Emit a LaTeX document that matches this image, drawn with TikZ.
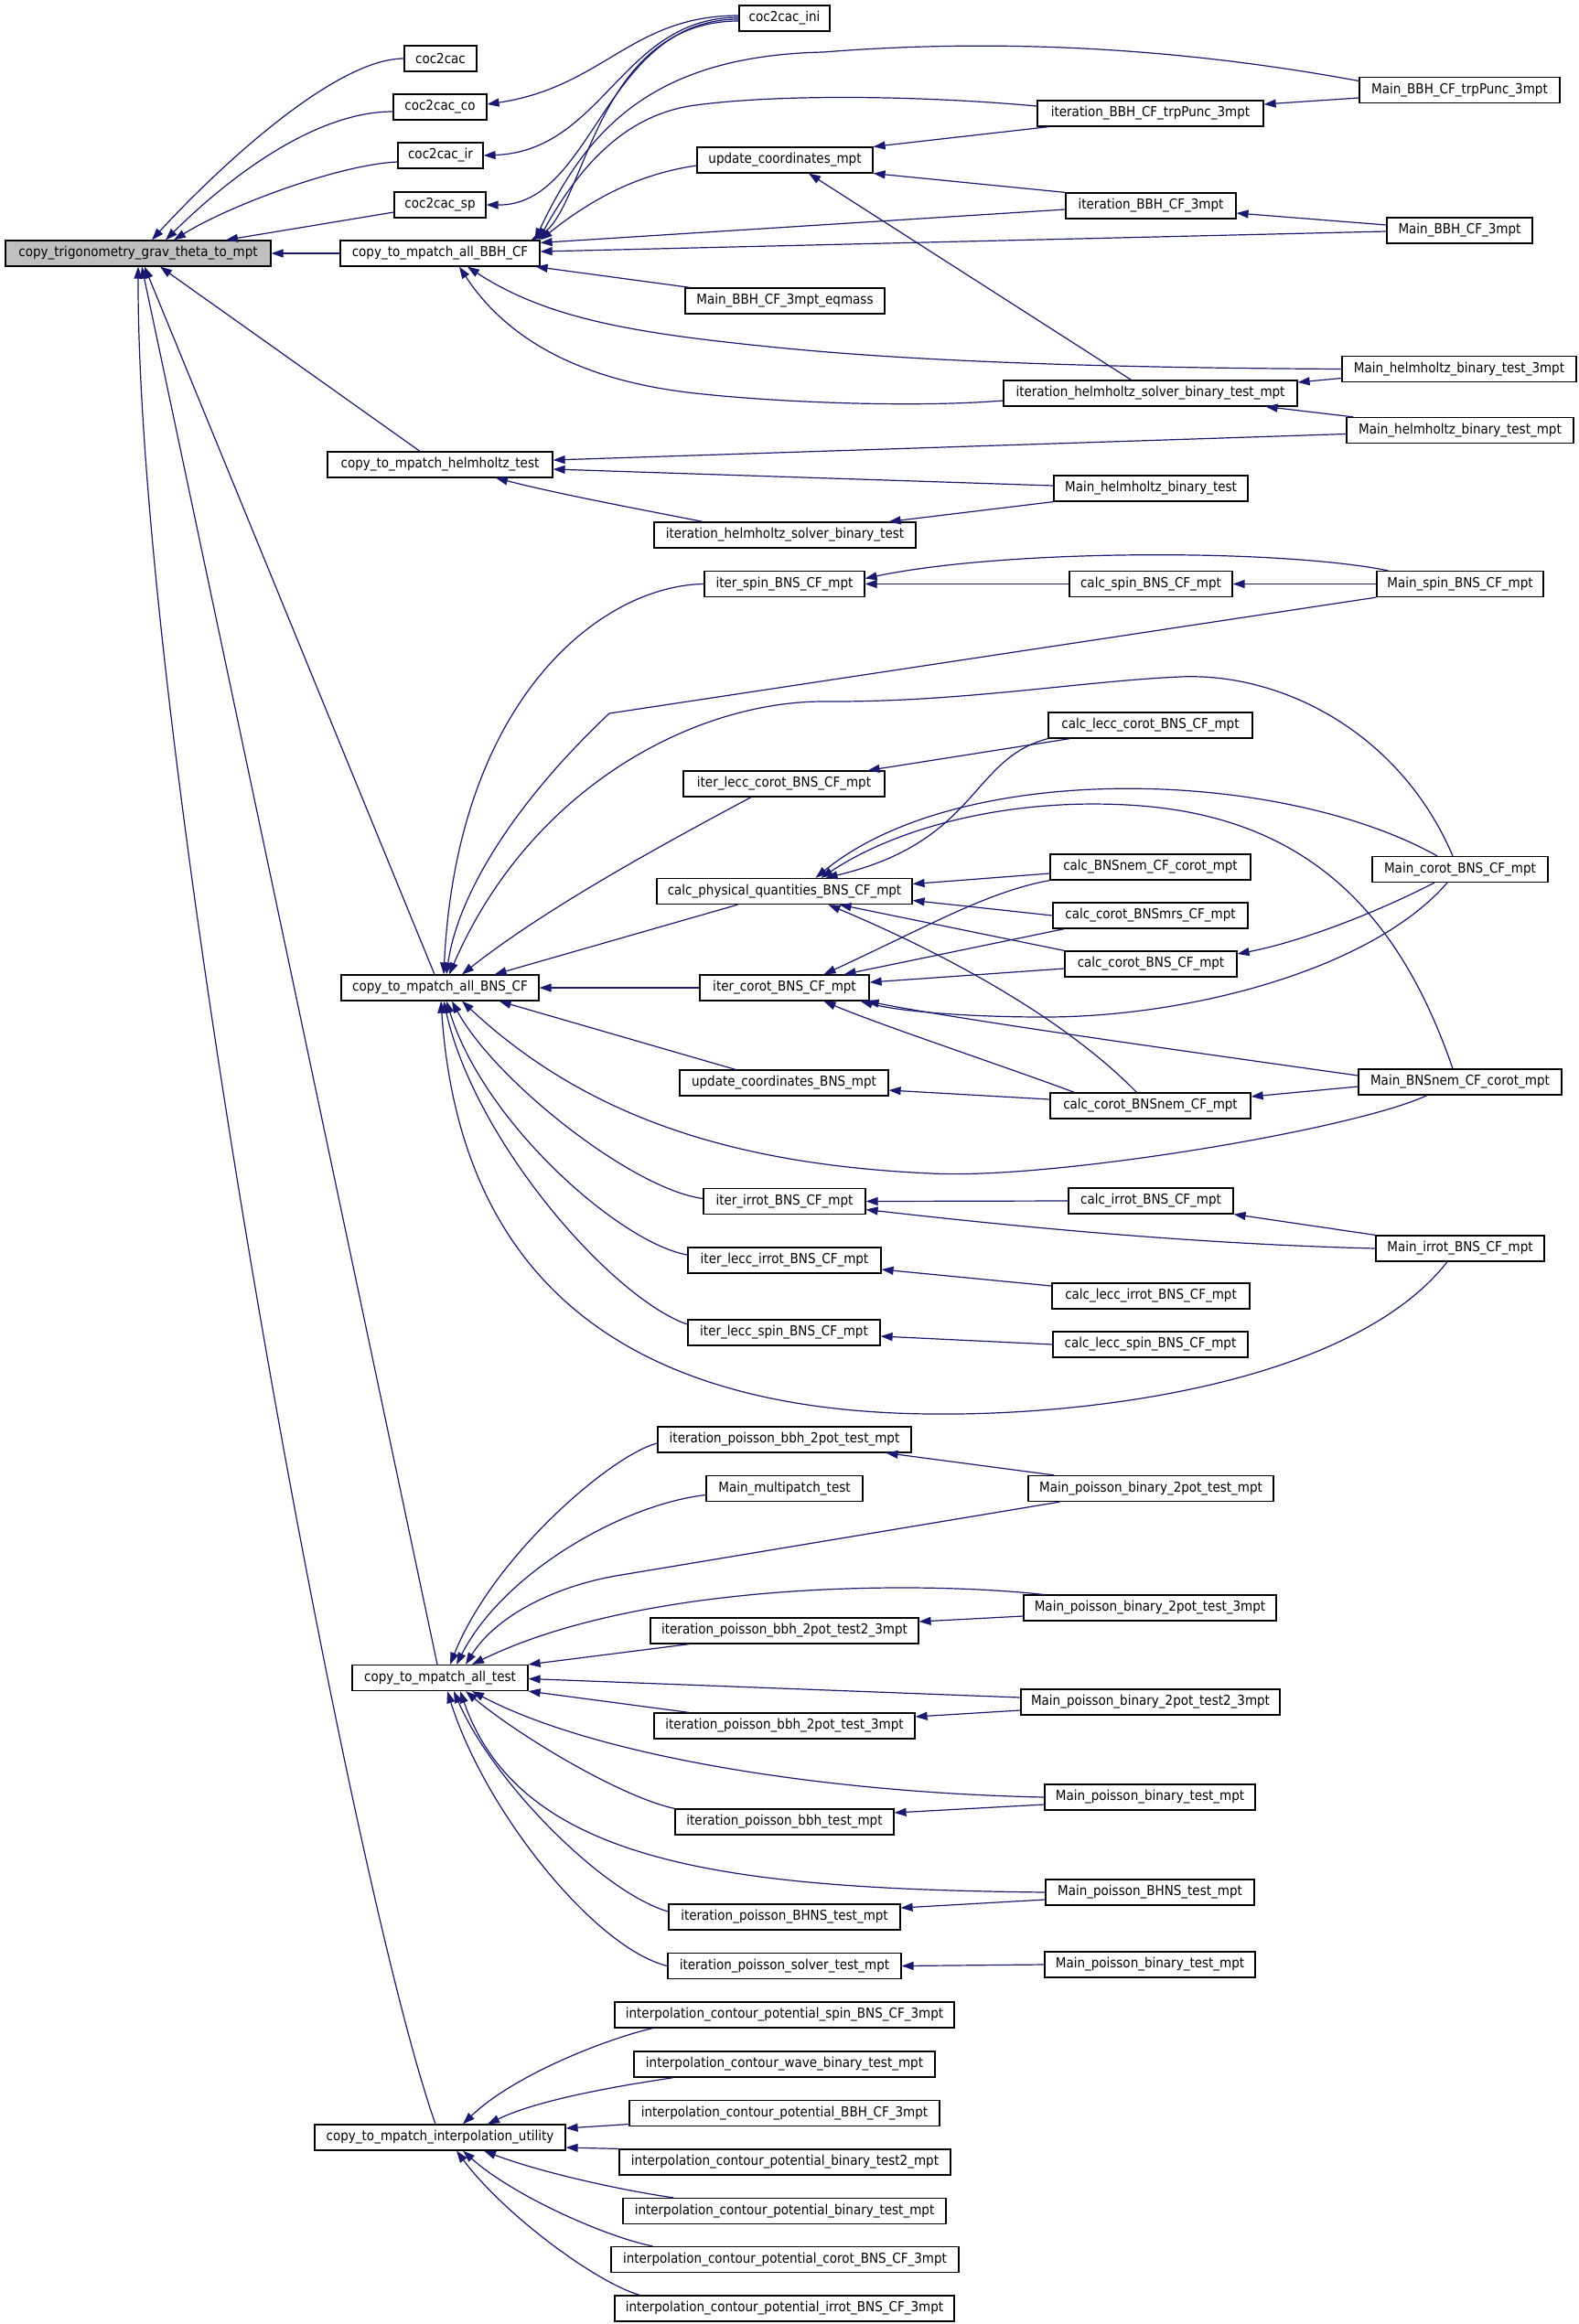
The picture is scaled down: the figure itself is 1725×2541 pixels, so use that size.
\documentclass[tikz,border=0pt]{standalone}
\usepackage{fontspec}
\setmainfont{DejaVu Sans}[FakeStretch=0.9]
\usetikzlibrary{arrows.meta}
\definecolor{edgeblue}{HTML}{191970}
\definecolor{callee}{HTML}{BFBFBF}
\begin{document}
\begin{tikzpicture}[x=1pt,y=-1pt,
    fn/.style={draw, line width=1.2pt, minimum height=28pt, inner sep=0pt, font=\fontsize{15}{18}\selectfont},
    call/.style={draw=edgeblue, line width=1.2pt, -{Triangle[length=13pt,width=9pt]}}]
	    \path[fill=white] (0,0) rectangle (1725,2541);
	    \node[fn, fill=callee, minimum width=290pt] (trig) at (151,277) {copy\_trigonometry\_grav\_theta\_to\_mpt};
	    \node[fn, minimum width=79pt] (cac) at (481.5,64) {coc2cac};
	    \node[fn, minimum width=102pt] (cacco) at (481,117) {coc2cac\_co};
	    \node[fn, minimum width=93pt] (cacir) at (481.5,170) {coc2cac\_ir};
	    \node[fn, minimum width=100pt] (cacsp) at (481,224) {coc2cac\_sp};
	    \node[fn, minimum width=99pt] (cacini) at (857.5,20) {coc2cac\_ini};
	    \node[fn, minimum width=218pt] (bbh) at (481,277) {copy\_to\_mpatch\_all\_BBH\_CF};
	    \node[fn, minimum width=192pt] (upd) at (858,175) {update\_coordinates\_mpt};
	    \node[fn, minimum width=218pt] (eqmass) at (858,329) {Main\_BBH\_CF\_3mpt\_eqmass};
	    \node[fn, minimum width=219pt] (mtrp) at (1595.5,98.5) {Main\_BBH\_CF\_trpPunc\_3mpt};
	    \node[fn, minimum width=247pt] (itrp) at (1257.5,124) {iteration\_BBH\_CF\_trpPunc\_3mpt};
	    \node[fn, minimum width=186pt] (ibbh) at (1258,225) {iteration\_BBH\_CF\_3mpt};
	    \node[fn, minimum width=159pt] (mbbh) at (1595.5,252) {Main\_BBH\_CF\_3mpt};
	    \node[fn, minimum width=256pt] (mhelmthree) at (1595,403.5) {Main\_helmholtz\_binary\_test\_3mpt};
	    \node[fn, minimum width=321pt] (ihelmmpt) at (1257.5,430) {iteration\_helmholtz\_solver\_binary\_test\_mpt};
	    \node[fn, minimum width=248pt] (mhelmmpt) at (1596,470.5) {Main\_helmholtz\_binary\_test\_mpt};
	    \node[fn, minimum width=246pt] (helm) at (481,508) {copy\_to\_mpatch\_helmholtz\_test};
	    \node[fn, minimum width=212pt] (mhelm) at (1258,534) {Main\_helmholtz\_binary\_test};
	    \node[fn, minimum width=286pt] (ihelm) at (858,585) {iteration\_helmholtz\_solver\_binary\_test};
	    \node[fn, minimum width=175pt] (ispin) at (857.5,638.5) {iter\_spin\_BNS\_CF\_mpt};
	    \node[fn, minimum width=178pt] (cspin) at (1258,638.5) {calc\_spin\_BNS\_CF\_mpt};
	    \node[fn, minimum width=182pt] (mspin) at (1596,638.5) {Main\_spin\_BNS\_CF\_mpt};
	    \node[fn, minimum width=223pt] (clecccorot) at (1257.5,793) {calc\_lecc\_corot\_BNS\_CF\_mpt};
	    \node[fn, minimum width=220pt] (ilecccorot) at (857,857) {iter\_lecc\_corot\_BNS\_CF\_mpt};
	    \node[fn, minimum width=219pt] (cbnsnem) at (1257.5,948) {calc\_BNSnem\_CF\_corot\_mpt};
	    \node[fn, minimum width=192pt] (mcorot) at (1596,950.5) {Main\_corot\_BNS\_CF\_mpt};
	    \node[fn, minimum width=279pt] (physq) at (857.5,974.5) {calc\_physical\_quantities\_BNS\_CF\_mpt};
	    \node[fn, minimum width=213pt] (cmrs) at (1257.5,1001) {calc\_corot\_BNSmrs\_CF\_mpt};
	    \node[fn, minimum width=188pt] (ccorot) at (1258,1054) {calc\_corot\_BNS\_CF\_mpt};
	    \node[fn, minimum width=216pt] (bns) at (481,1080) {copy\_to\_mpatch\_all\_BNS\_CF};
	    \node[fn, minimum width=185pt] (icorot) at (857.5,1080) {iter\_corot\_BNS\_CF\_mpt};
	    \node[fn, minimum width=228pt] (ubns) at (857,1184) {update\_coordinates\_BNS\_mpt};
	    \node[fn, minimum width=219pt] (cnem) at (1257.5,1209) {calc\_corot\_BNSnem\_CF\_mpt};
	    \node[fn, minimum width=222pt] (mnem) at (1596,1183) {Main\_BNSnem\_CF\_corot\_mpt};
	    \node[fn, minimum width=177pt] (iirrot) at (857.5,1313.5) {iter\_irrot\_BNS\_CF\_mpt};
	    \node[fn, minimum width=180pt] (cirrot) at (1258,1313) {calc\_irrot\_BNS\_CF\_mpt};
	    \node[fn, minimum width=184pt] (mirrot) at (1596,1365) {Main\_irrot\_BNS\_CF\_mpt};
	    \node[fn, minimum width=211pt] (ileccirrot) at (857.5,1378) {iter\_lecc\_irrot\_BNS\_CF\_mpt};
	    \node[fn, minimum width=216pt] (cleccirrot) at (1258,1417) {calc\_lecc\_irrot\_BNS\_CF\_mpt};
	    \node[fn, minimum width=210pt] (ileccspin) at (857,1457) {iter\_lecc\_spin\_BNS\_CF\_mpt};
	    \node[fn, minimum width=213pt] (cleccspin) at (1257.5,1470) {calc\_lecc\_spin\_BNS\_CF\_mpt};
	    \node[fn, minimum width=277pt] (ip2pot) at (857.5,1574) {iteration\_poisson\_bbh\_2pot\_test\_mpt};
	    \node[fn, minimum width=171pt] (mmulti) at (857.5,1627.5) {Main\_multipatch\_test};
	    \node[fn, minimum width=268pt] (mp2pot) at (1258,1627.5) {Main\_poisson\_binary\_2pot\_test\_mpt};
	    \node[fn, minimum width=276pt] (mp2pot3) at (1257,1758) {Main\_poisson\_binary\_2pot\_test\_3mpt};
	    \node[fn, minimum width=293pt] (ip2pot23) at (857.5,1783) {iteration\_poisson\_bbh\_2pot\_test2\_3mpt};
	    \node[fn, minimum width=192pt] (alltest) at (481,1834.5) {copy\_to\_mpatch\_all\_test};
	    \node[fn, minimum width=283pt] (mp2pot23) at (1257.5,1861) {Main\_poisson\_binary\_2pot\_test2\_3mpt};
	    \node[fn, minimum width=285pt] (ip2pot3) at (857.5,1887) {iteration\_poisson\_bbh\_2pot\_test\_3mpt};
	    \node[fn, minimum width=230pt] (mpbin) at (1257,1965) {Main\_poisson\_binary\_test\_mpt};
	    \node[fn, minimum width=239pt] (ipbbh) at (857.5,1992) {iteration\_poisson\_bbh\_test\_mpt};
	    \node[fn, minimum width=228pt] (mpbhns) at (1257,2069) {Main\_poisson\_BHNS\_test\_mpt};
	    \node[fn, minimum width=253pt] (ipbhns) at (857.5,2096) {iteration\_poisson\_BHNS\_test\_mpt};
	    \node[fn, minimum width=255pt] (ipsolver) at (857.5,2149.5) {iteration\_poisson\_solver\_test\_mpt};
	    \node[fn, minimum width=230pt] (mpbintwo) at (1257,2148) {Main\_poisson\_binary\_test\_mpt};
	    \node[fn, minimum width=371pt] (icspin) at (857.5,2203) {interpolation\_contour\_potential\_spin\_BNS\_CF\_3mpt};
	    \node[fn, minimum width=329pt] (icwave) at (857.5,2257) {interpolation\_contour\_wave\_binary\_test\_mpt};
	    \node[fn, minimum width=339pt] (icbbh) at (857.5,2310.5) {interpolation\_contour\_potential\_BBH\_CF\_3mpt};
	    \node[fn, minimum width=274pt] (interp) at (481,2337) {copy\_to\_mpatch\_interpolation\_utility};
	    \node[fn, minimum width=362pt] (icbt2) at (858,2364) {interpolation\_contour\_potential\_binary\_test2\_mpt};
	    \node[fn, minimum width=353pt] (icbt) at (857.5,2417.5) {interpolation\_contour\_potential\_binary\_test\_mpt};
	    \node[fn, minimum width=380pt] (iccorot) at (858,2470.5) {interpolation\_contour\_potential\_corot\_BNS\_CF\_3mpt};
	    \node[fn, minimum width=371pt] (icirrot) at (857.5,2524) {interpolation\_contour\_potential\_irrot\_BNS\_CF\_3mpt};
	    \draw[call] (cac.west) .. controls (360,64) and (220,203) .. ([xshift=15pt]trig.north);
	    \draw[call] ([yshift=-5pt]cacco.west) .. controls (340,122) and (243,201) .. ([xshift=30pt]trig.north);
	    \draw[call] ([yshift=-7pt]cacir.west) .. controls (370,180) and (250,225) .. ([xshift=39pt]trig.north);
	    \draw[call] ([yshift=-8pt]cacsp.west) -- ([xshift=96pt]trig.north);
	    \draw[call] (bbh.west) -- (trig.east);
	    \draw[call] ([xshift=-22pt]helm.north) -- ([xshift=24pt]trig.south);
	    \draw[call] ([xshift=-6pt]bns.north) -- ([xshift=7pt]trig.south);
	    \draw[call] ([xshift=-3pt]alltest.north) -- ([xshift=4pt]trig.south);
	    \draw[call] ([xshift=-5pt]interp.north) .. controls (380,2050) and (150,800) .. (trig.south);
	    \draw[call] ([yshift=3pt]cacini.west) .. controls (690,17) and (660,95) .. ([yshift=3pt]cacco.east);
	    \draw[call] ([yshift=1pt]cacini.west) .. controls (680,19) and (660,165) .. (cacir.east);
	    \draw[call] ([yshift=-1pt]cacini.west) .. controls (660,21) and (650,225) .. (cacsp.east);
	    \draw[call] ([yshift=-3pt]cacini.west) .. controls (650,23) and (640,230) .. ([xshift=-10pt]bbh.north east);
	    \draw[call] ([yshift=10pt]mtrp.west) .. controls (1250,45) and (1050,45) .. (900,57) .. controls (710,61) and (640,145) .. ([xshift=-6pt]bbh.north east);
	    \draw[call] ([yshift=8pt]itrp.west) .. controls (1000,104) and (850,103) .. (760,115) .. controls (700,123) and (645,160) .. ([xshift=-2pt]bbh.north east);
	    \draw[call] ([yshift=-6pt]upd.west) .. controls (700,190) and (650,215) .. (bbh.north east);
	    \draw[call] ([yshift=-4pt]ibbh.west) -- ([yshift=-3pt]bbh.north east);
	    \draw[call] ([yshift=-1pt]mbbh.west) -- ([yshift=2pt]bbh.east);
	    \draw[call] ([xshift=6pt]eqmass.north west) -- ([xshift=-5pt]bbh.south east);
	    \draw[call] (mhelmthree.west) .. controls (1200,402) and (1000,395) .. (850,380) .. controls (700,365) and (600,350) .. ([xshift=30pt]bbh.south);
	    \draw[call] ([yshift=-8pt]ihelmmpt.west) .. controls (1000,446) and (850,440) .. (760,430) .. controls (650,418) and (560,380) .. ([xshift=21pt]bbh.south);
	    \draw[call] ([xshift=13pt]itrp.south west) -- (upd.north east);
	    \draw[call] (ibbh.north west) -- (upd.south east);
	    \draw[call] ([xshift=-21pt]ihelmmpt.north) -- ([xshift=26pt]upd.south);
	    \draw[call] ([yshift=-8.5pt]mtrp.west) -- ([yshift=10pt]itrp.east);
	    \draw[call] ([yshift=6pt]mbbh.west) -- ([yshift=-8pt]ibbh.east);
	    \draw[call] ([yshift=-10pt]mhelmthree.west) -- ([yshift=12pt]ihelmmpt.east);
	    \draw[call] ([xshift=8pt]mhelmmpt.north west) -- ([xshift=-35pt]ihelmmpt.south east);
	    \draw[call] ([yshift=-4pt]mhelmmpt.west) -- ([yshift=5pt]helm.east);
	    \draw[call] ([yshift=3pt]mhelm.west) -- ([yshift=-5pt]helm.east);
	    \draw[call] ([xshift=54pt]ihelm.north west) .. controls (690,555) and (610,540) .. ([xshift=61pt]helm.south);
	    \draw[call] (mhelm.south west) -- ([xshift=-30pt]ihelm.north east);
	    \draw[call] (ispin.west) .. controls (660,640) and (500,760) .. ([xshift=4pt]bns.north);
	    \draw[call] (mspin.south west) -- (666,780) .. controls (560,880) and (500,980) .. ([xshift=7pt]bns.north);
	    \draw[call] ([xshift=-8pt]mcorot.north) .. controls (1530,800) and (1400,735) .. (1290,740) .. controls (1180,745) and (1050,768) .. (900,767) .. controls (760,767) and (580,860) .. ([xshift=10pt]bns.north);
	    \draw[call] ([xshift=-36pt]ilecccorot.south) .. controls (740,915) and (600,990) .. ([xshift=24pt]bns.north);
	    \draw[call] ([xshift=-51pt]physq.south) -- ([xshift=-49pt]bns.north east);
	    \draw[call] (icorot.west) -- (bns.east);
	    \draw[call] ([xshift=-53pt]ubns.north) -- ([xshift=-44pt]bns.south east);
	    \draw[call] ([xshift=-36pt]mnem.south) .. controls (1480,1235) and (1150,1290) .. (1018,1283) .. controls (820,1274) and (650,1230) .. ([xshift=24pt]bns.south);
	    \draw[call] ([yshift=3pt]iirrot.west) .. controls (690,1300) and (540,1180) .. ([xshift=13pt]bns.south);
	    \draw[call] ([yshift=6pt]ileccirrot.west) .. controls (680,1360) and (530,1230) .. ([xshift=7pt]bns.south);
	    \draw[call] ([yshift=9pt]ileccspin.west) .. controls (670,1420) and (520,1250) .. ([xshift=4pt]bns.south);
	    \draw[call] ([xshift=-14pt]mirrot.south) .. controls (1480,1510) and (1200,1548) .. (1018,1546) .. controls (640,1543) and (500,1360) .. ([xshift=1pt]bns.south);
	    \draw[call] (cspin.west) -- (ispin.east);
	    \draw[call] ([xshift=13pt]mspin.north west) .. controls (1400,600) and (1100,600) .. ([yshift=6pt]ispin.east);
	    \draw[call] (mspin.west) -- (cspin.east);
	    \draw[call] ([xshift=24pt]clecccorot.south west) -- ([xshift=-19pt]ilecccorot.north east);
	    \draw[call] (clecccorot.south west) .. controls (1060,830) and (1070,920) .. ([xshift=45pt]physq.north);
	    \draw[call] ([xshift=-25pt]mcorot.north) .. controls (1400,840) and (1050,830) .. ([xshift=34pt]physq.north);
	    \draw[call] ([xshift=-8pt]mnem.north) .. controls (1530,1000) and (1430,890) .. (1231,880) .. controls (1100,873) and (980,905) .. ([xshift=40pt]physq.north);
	    \draw[call] ([yshift=-7pt]cbnsnem.west) -- ([yshift=8pt]physq.east);
	    \draw[call] (cmrs.west) -- ([yshift=-10pt]physq.east);
	    \draw[call] (ccorot.north west) -- ([xshift=60pt]physq.south);
	    \draw[call] ([xshift=-15pt]cnem.north) .. controls (1170,1120) and (1050,1050) .. ([xshift=48pt]physq.south);
	    \draw[call] (cbnsnem.south west) .. controls (1080,975) and (1020,1010) .. ([xshift=43pt]icorot.north);
	    \draw[call] ([xshift=13pt]cmrs.south west) -- ([xshift=65pt]icorot.north);
	    \draw[call] ([yshift=-5pt]ccorot.west) -- ([yshift=6pt]icorot.east);
	    \draw[call] ([xshift=-14pt]mcorot.south) .. controls (1500,1060) and (1300,1112) .. (1142,1112) .. controls (1050,1112) and (980,1105) .. ([xshift=-10pt]icorot.south east);
	    \draw[call] ([yshift=7pt]mnem.west) .. controls (1300,1150) and (1050,1115) .. ([xshift=-3pt]icorot.south east);
	    \draw[call] ([xshift=27pt]cnem.north west) .. controls (1110,1170) and (960,1120) .. ([xshift=43pt]icorot.south);
	    \draw[call] ([xshift=-28pt]mcorot.south) .. controls (1500,1000) and (1420,1030) .. ([yshift=11pt]ccorot.east);
	    \draw[call] ([yshift=7pt]cnem.west) -- ([yshift=-8pt]ubns.east);
	    \draw[call] ([yshift=-5pt]mnem.west) -- ([yshift=10pt]cnem.east);
	    \draw[call] (cirrot.west) -- (iirrot.east);
	    \draw[call] (mirrot.west) .. controls (1300,1360) and (1100,1340) .. ([yshift=-9pt]iirrot.east);
	    \draw[call] (mirrot.north west) -- (cirrot.south east);
	    \draw[call] ([yshift=11pt]cleccirrot.west) -- ([yshift=-10pt]ileccirrot.east);
	    \draw[call] (cleccspin.west) -- ([yshift=-4pt]ileccspin.east);
	    \draw[call] ([yshift=-4pt]ip2pot.west) .. controls (670,1590) and (540,1700) .. ([xshift=11pt]alltest.north);
	    \draw[call] ([yshift=-7pt]mmulti.west) .. controls (680,1645) and (550,1720) .. ([xshift=18pt]alltest.north);
	    \draw[call] ([xshift=35pt]mp2pot.south west) -- (673,1723) .. controls (600,1736) and (540,1770) .. ([xshift=28pt]alltest.north);
	    \draw[call] ([xshift=22pt]mp2pot3.north west) .. controls (1000,1728) and (700,1730) .. ([xshift=35pt]alltest.north);
	    \draw[call] ([xshift=43pt]ip2pot23.south west) -- (alltest.north east);
	    \draw[call] ([yshift=5pt]mp2pot23.west) -- ([yshift=-1pt]alltest.east);
	    \draw[call] ([xshift=39pt]ip2pot3.north west) -- (alltest.south east);
	    \draw[call] (mpbin.west) .. controls (900,1960) and (650,1920) .. ([xshift=35pt]alltest.south);
	    \draw[call] (ipbbh.north west) .. controls (680,1965) and (570,1900) .. ([xshift=28pt]alltest.south);
	    \draw[call] (mpbhns.west) .. controls (800,2065) and (570,2040) .. ([xshift=22pt]alltest.south);
	    \draw[call] ([yshift=6pt]ipbhns.west) .. controls (660,2070) and (540,1950) .. ([xshift=15pt]alltest.south);
	    \draw[call] (ipsolver.west) .. controls (650,2130) and (530,1980) .. ([xshift=8pt]alltest.south);
	    \draw[call] ([xshift=29pt]mp2pot.north west) -- ([xshift=-28pt]ip2pot.south east);
	    \draw[call] ([yshift=-9pt]mp2pot3.west) -- ([yshift=10pt]ip2pot23.east);
	    \draw[call] ([yshift=-9pt]mp2pot23.west) -- ([yshift=10pt]ip2pot3.east);
	    \draw[call] ([yshift=-8pt]mpbin.west) -- ([yshift=10pt]ipbbh.east);
	    \draw[call] ([yshift=-8pt]mpbhns.west) -- ([yshift=10pt]ipbhns.east);
	    \draw[call] (mpbintwo.west) -- (ipsolver.east);
	    \draw[call] ([xshift=42pt]icspin.south west) .. controls (660,2230) and (560,2270) .. ([xshift=25pt]interp.north);
	    \draw[call] ([xshift=44pt]icwave.south west) .. controls (680,2280) and (590,2295) .. ([xshift=52pt]interp.north);
	    \draw[call] ([yshift=-12pt]icbbh.west) -- ([yshift=10pt]interp.east);
	    \draw[call] (icbt2.north west) -- ([yshift=-11pt]interp.east);
	    \draw[call] ([xshift=56pt]icbt.north west) .. controls (680,2395) and (590,2375) .. ([xshift=48pt]interp.south);
	    \draw[call] ([xshift=46pt]iccorot.north west) .. controls (660,2445) and (560,2400) .. ([xshift=25pt]interp.south);
	    \draw[call] ([xshift=28pt]icirrot.north west) .. controls (650,2495) and (550,2420) .. ([xshift=18pt]interp.south);
        \end{tikzpicture}
\end{document}
